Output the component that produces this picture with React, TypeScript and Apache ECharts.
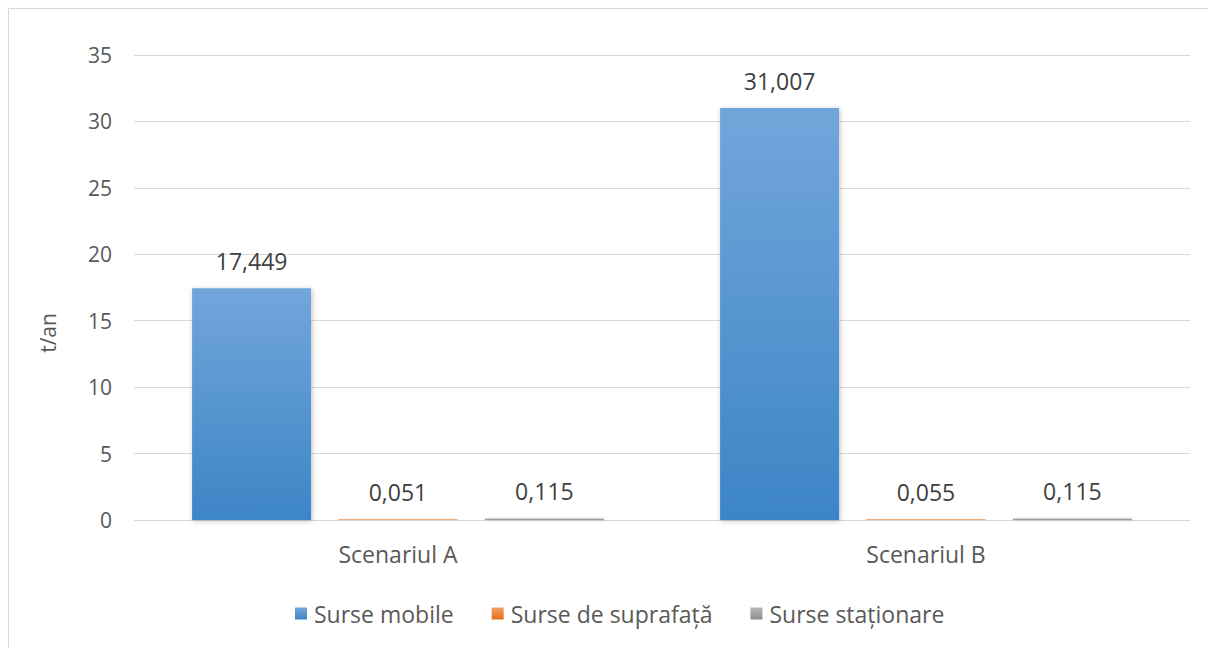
import React, { useEffect, useRef } from "react";
import * as echarts from "echarts";

const categories = ["Scenariul A", "Scenariul B"];
const seriesNames = ["Surse mobile", "Surse de suprafață", "Surse staționare"];
const mobile = [17.449, 31.007];
const suprafata = [0.051, 0.055];
const stationare = [0.115, 0.115];
const yTicks = [0, 5, 10, 15, 20, 25, 30, 35];

const FONT = "'Open Sans', 'Noto Sans', sans-serif";

function grad(top: string, bottom: string) {
  return new echarts.graphic.LinearGradient(0, 0, 0, 1, [
    { offset: 0, color: top },
    { offset: 1, color: bottom },
  ]);
}

const fmt = (v: number) => v.toFixed(3).replace(".", ",");

export default function App() {
  const ref = useRef<HTMLDivElement>(null);
  useEffect(() => {
    if (!ref.current) return;
    const chart = echarts.init(ref.current, null, { renderer: "svg" });
    const palette = [
      ["#72a6db", "#3d85c6"],
      ["#f5a26b", "#e46c16"],
      ["#b6b6b6", "#8e8e8e"],
    ];
    const data = [mobile, suprafata, stationare];
    chart.setOption({
      animation: false,
      backgroundColor: "#ffffff",
      graphic: [
        {
          type: "rect",
          shape: { x: 8.5, y: 8.5, width: 1240, height: 700 },
          style: { fill: "none", stroke: "#d9d9d9", lineWidth: 1 },
          silent: true,
        },
        {
          type: "text",
          x: 48,
          y: 333,
          rotation: Math.PI / 2,
          style: {
            text: "t/an",
            font: `21px ${FONT}`,
            fill: "#595959",
            align: "center",
            verticalAlign: "middle",
          },
        },
      ],
      grid: { left: 134, right: 18, top: 55, bottom: 128 },
      legend: {
        top: 597,
        left: 290,
        itemWidth: 12,
        itemHeight: 12,
        itemGap: 38,
        icon: "rect",
        textStyle: { fontFamily: FONT, fontSize: 23, color: "#595959", padding: [0, 0, 0, 2] },
        data: seriesNames.map((n, i) => ({
          name: n,
          itemStyle: { color: grad(palette[i][0], palette[i][1]) },
        })),
      },
      xAxis: {
        type: "category",
        data: categories,
        axisLine: { lineStyle: { color: "#d9d9d9", width: 1 } },
        axisTick: { show: false },
        axisLabel: { fontFamily: FONT, fontSize: 23, color: "#595959", margin: 22 },
      },
      yAxis: {
        type: "value",
        min: 0,
        max: 35,
        interval: 5,
        axisLine: { show: false },
        axisTick: { show: false },
        splitLine: { lineStyle: { color: "#d9d9d9", width: 1 } },
        axisLabel: {
          fontFamily: FONT,
          fontSize: 21,
          color: "#595959",
          margin: 22,
          formatter: (v: number) => (yTicks.includes(v) ? String(v) : ""),
        },
      },
      series: seriesNames.map((name, i) => ({
        name,
        type: "bar",
        data: data[i],
        barGap: "23%",
        barCategoryGap: "22%",
        itemStyle: {
          color: grad(palette[i][0], palette[i][1]),
          shadowColor: "rgba(0,0,0,0.25)",
          shadowBlur: 5,
          shadowOffsetX: 1,
          shadowOffsetY: 1,
        },
        label: {
          show: true,
          position: "top",
          distance: 16,
          fontFamily: FONT,
          fontSize: 23,
          color: "#404040",
          formatter: (p: any) => fmt(p.value),
        },
      })),
    });
    return () => chart.dispose();
  }, []);
  return (
    <div
      ref={ref}
      style={{ position: "fixed", left: 0, top: 0, width: 1208, height: 648, background: "#fff" }}
    />
  );
}
